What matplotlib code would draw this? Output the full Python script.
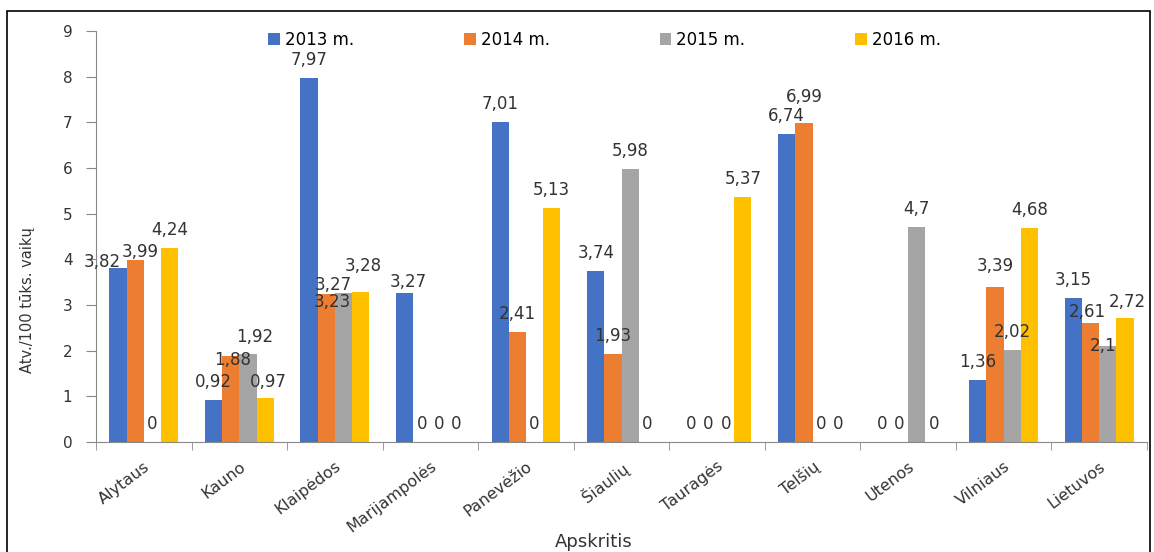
import matplotlib
matplotlib.use("Agg")
import matplotlib.pyplot as plt
import numpy as np
from matplotlib.patches import Rectangle

plt.rcParams['font.family'] = ['DejaVu Sans']

categories = ["Alytaus", "Kauno", "Klaipėdos", "Marijampolės", "Panevėžio",
              "Šiaulių", "Tauragės", "Telšių", "Utenos", "Vilniaus", "Lietuvos"]
series_names = ["2013 m.", "2014 m.", "2015 m.", "2016 m."]
v2013 = [3.82, 0.92, 7.97, 3.27, 7.01, 3.74, 0, 6.74, 0, 1.36, 3.15]
v2014 = [3.99, 1.88, 3.23, 0, 2.41, 1.93, 0, 6.99, 0, 3.39, 2.61]
v2015 = [0, 1.92, 3.27, 0, 0, 5.98, 0, 0, 4.7, 2.02, 2.1]
v2016 = [4.24, 0.97, 3.28, 0, 5.13, 0, 5.37, 0, 0, 4.68, 2.72]
colors = ["#4472C4", "#ED7D31", "#A5A5A5", "#FFC000"]
yticks = list(range(0, 10))

# extra pixel shifts for crowded value labels: (category, series) -> (dx, dy)
label_shift = {
    (0, 0): (-16, -12), (0, 1): (5, -10),
    (1, 1): (2, -22), (1, 2): (7, -1), (1, 3): (3, -2),
    (2, 1): (6, -26), (2, 2): (-10, -10), (2, 3): (3, 8),
    (3, 0): (4, -7),
    (7, 1): (0, 8),
    (9, 1): (0, 3),
    (10, 1): (-3, -7), (10, 2): (-5, -18), (10, 3): (2, -2),
}

fig = plt.figure(figsize=(11.54, 5.52), dpi=100)
ax = fig.add_axes([96/1154, 110/552, 1051/1154, 411/552])

x = np.arange(len(categories))
width = 0.18
allvals = [v2013, v2014, v2015, v2016]
for i, (vals, name, c) in enumerate(zip(allvals, series_names, colors)):
    pos = x + (i - 1.5) * width
    ax.bar(pos, vals, width=width, color=c, label=name, zorder=2)
    for k, (px, v) in enumerate(zip(pos, vals)):
        txt = f"{v:g}".replace(".", ",")
        dx, dy = label_shift.get((k, i), (0, 0))
        ax.annotate(txt, (px, v), xytext=(dx, 18 + dy),
                    textcoords="offset pixels",
                    ha="center", va="center", fontsize=12, color="#333333",
                    zorder=3)

ax.set_xlim(-0.5, len(categories) - 0.5)
ax.set_ylim(0, 9)
ax.set_yticks(yticks)
ax.set_yticklabels([str(t) for t in yticks], fontsize=11, color="#333333")
ax.set_xticks(x)
ax.set_xticklabels(categories, rotation=37, ha="right", va="top",
                   rotation_mode="anchor", fontsize=11.5, color="#333333")
ax.tick_params(axis="x", length=0, pad=12)
ax.set_xticks(np.arange(-0.5, len(categories)), minor=True)
ax.tick_params(axis="x", which="minor", length=6, color="#888888")
ax.tick_params(axis="y", length=7, color="#888888", pad=10)

for s in ["top", "right"]:
    ax.spines[s].set_visible(False)
ax.spines["left"].set_color("#888888")
ax.spines["bottom"].set_color("#888888")

ax.set_ylabel("Atv./100 tūks. vaikų", fontsize=10.5, color="#333333")
ax.yaxis.set_label_coords(-0.058, 0.345)
ax.set_xlabel("Apskritis", fontsize=13, color="#333333")
ax.xaxis.set_label_coords(0.474, -0.221)

ax.legend(loc="center", bbox_to_anchor=(0.484, 0.978), ncol=4,
          frameon=False, fontsize=12, handlelength=0.7, handleheight=0.7,
          handletextpad=0.3, columnspacing=6.6)

fig.patches.append(Rectangle((7/1154, -0.05), 1143/1154, 1.05 - 11/552,
                             transform=fig.transFigure, fill=False,
                             edgecolor="black", linewidth=1.2))

fig.savefig("out.png", dpi=100)
